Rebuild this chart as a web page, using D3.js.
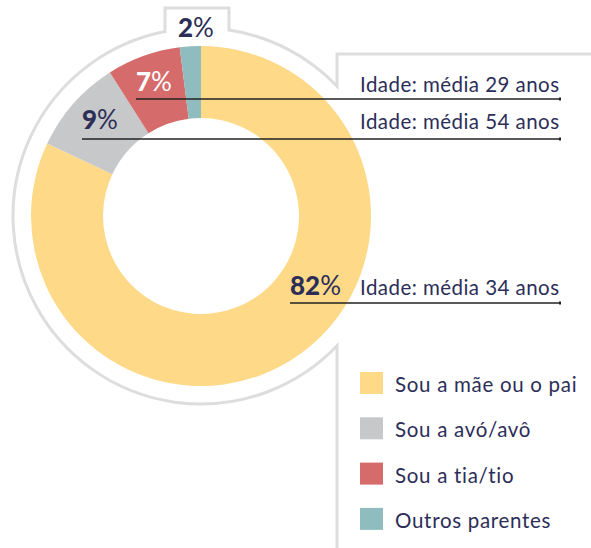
<!DOCTYPE html>
<html>
<head>
<meta charset="utf-8">
<script src="https://cdn.jsdelivr.net/npm/d3@7"></script>
<style>
  body { margin: 0; background: #fff; }
  svg { display: block; font-family: Lato, "Open Sans", sans-serif; }
</style>
</head>
<body>
<div id="chart"></div>
<script>
const width = 591, height = 548;

// data
const categories = ["Sou a mãe ou o pai", "Sou a avó/avô", "Sou a tia/tio", "Outros parentes"];
const shares = [82, 9, 7, 2];
const ageLabels = ["Idade: média 34 anos", "Idade: média 54 anos", "Idade: média 29 anos", null];
const colors = ["#FED987", "#C7C8CA", "#D56B6B", "#8FBCBE"];

const navy = "#2C2E58";
const cx = 201, cy = 216, outerR = 170, innerR = 98, frameR = 188;

const svg = d3.select("#chart").append("svg")
  .attr("width", width)
  .attr("height", height);

// grey frame around the donut (tab on top, open on the right)
function framePath() {
  const p = d3.path();
  const xr = 337, xl = 165, xt = 229, topY = 8, lineY = 54;
  const dyR = Math.sqrt(frameR * frameR - (xr - cx) * (xr - cx));
  const angAt = (x, y) => Math.atan2(y - cy, x - cx);
  p.moveTo(xr, height);
  p.lineTo(xr, cy + dyR);
  const yl = cy - Math.sqrt(frameR * frameR - (xl - cx) * (xl - cx));
  let a1 = angAt(xl, yl);
  if (a1 < 0) a1 += 2 * Math.PI;
  p.arc(cx, cy, frameR, angAt(xr, cy + dyR), a1, false);
  p.lineTo(xl, topY);
  p.lineTo(xt, topY);
  const yt = cy - Math.sqrt(frameR * frameR - (xt - cx) * (xt - cx));
  p.lineTo(xt, yt);
  let b0 = angAt(xt, yt) + 2 * Math.PI, b1 = angAt(xr, cy - dyR) + 2 * Math.PI;
  p.arc(cx, cy, frameR, b0, b1, false);
  p.lineTo(xr, lineY);
  p.lineTo(width, lineY);
  return p.toString();
}

svg.append("path")
  .attr("d", framePath())
  .attr("fill", "none")
  .attr("stroke", "#DDDDDD")
  .attr("stroke-width", 3);

const pie = d3.pie().sort(null).value(d => d);
const arc = d3.arc().innerRadius(innerR).outerRadius(outerR);
const arcs = pie(shares);

const g = svg.append("g").attr("transform", `translate(${cx},${cy})`);
g.selectAll("path")
  .data(arcs)
  .enter()
  .append("path")
  .attr("d", arc)
  .attr("fill", (d, i) => colors[i]);

// percentage labels + leader lines
const labelLayout = [
  { x: 290, y: 295, lineY: 303, ageY: 295, fill: navy },
  { x: 82, y: 129, lineY: 139, ageY: 129, fill: navy },
  { x: 136, y: 91, lineY: 99, ageY: 92, fill: "#fff" },
  { x: 178, y: 37, lineY: null, ageY: null, fill: navy }
];
const lineEnd = 560, ageX = 360;

shares.forEach((v, i) => {
  const L = labelLayout[i];
  if (L.lineY !== null) {
    svg.append("line")
      .attr("x1", L.x).attr("x2", lineEnd)
      .attr("y1", L.lineY).attr("y2", L.lineY)
      .attr("stroke", "#222").attr("stroke-width", 1.5);
    svg.append("rect")
      .attr("x", lineEnd - 1).attr("y", L.lineY - 1.5)
      .attr("width", 2).attr("height", 3)
      .attr("fill", "#222");
  }
  const t = svg.append("text")
    .attr("x", L.x).attr("y", L.y)
    .attr("fill", L.fill)
    .style("font-size", "26px");
  t.append("tspan").attr("font-weight", 900).text(v);
  t.append("tspan").attr("font-weight", 400).text("%");
  if (ageLabels[i]) {
    svg.append("text")
      .attr("x", ageX).attr("y", L.ageY)
      .attr("fill", navy)
      .style("font-size", "20.5px")
      .style("letter-spacing", "0.45px")
      .text(ageLabels[i]);
  }
});

// legend
const legend = svg.append("g").attr("transform", "translate(360,372)");
const item = legend.selectAll("g")
  .data(categories)
  .enter()
  .append("g")
  .attr("transform", (d, i) => `translate(0,${i * 45.3})`);
item.append("rect")
  .attr("width", 23).attr("height", 22)
  .attr("fill", (d, i) => colors[i]);
item.append("text")
  .attr("x", 35).attr("y", 20)
  .attr("fill", navy)
  .style("font-size", "20.5px")
  .style("letter-spacing", "0.7px")
  .text(d => d);
</script>
</body>
</html>
